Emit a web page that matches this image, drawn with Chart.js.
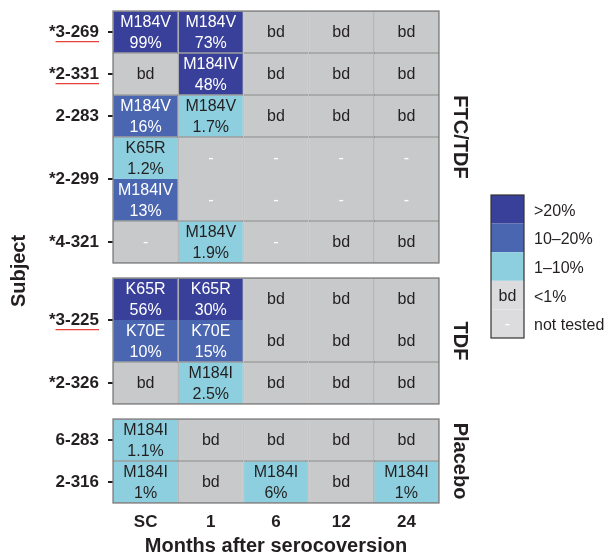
<!DOCTYPE html>
<html>
<head>
<meta charset="utf-8">
<script src="https://cdn.jsdelivr.net/npm/chart.js@4.4.1/dist/chart.umd.min.js"></script>
<style>
    html, body { margin: 0; padding: 0; background: #fff; }
    #wrap { width: 606px; height: 556px; }
</style>
</head>
<body>
<div id="wrap"><canvas id="chart" width="606" height="556"></canvas></div>
<script>
// ========== DATA ==========
const months = ['SC', '1', '6', '12', '24'];
const groups = ['FTC/TDF', 'TDF', 'Placebo'];
const subjects = ['*3-269', '*2-331', '2-283', '*2-299', '*4-321', '*3-225', '*2-326', '6-283', '2-316'];
const subjectGroup = [0, 0, 0, 0, 0, 1, 1, 2, 2];
const underlined = ['*3-269', '*2-331', '*3-225'];

// per subject, per month: 'bd', '-' (not tested) or [mutation, percent].
// A pair of entries splits the cell into two halves.
const results = [
    [['M184V', 99], ['M184V', 73], 'bd', 'bd', 'bd'],
    ['bd', ['M184IV', 48], 'bd', 'bd', 'bd'],
    [['M184V', 16], ['M184V', 1.7], 'bd', 'bd', 'bd'],
    [[['K65R', 1.2], ['M184IV', 13]], ['-', '-'], ['-', '-'], ['-', '-'], ['-', '-']],
    ['-', ['M184V', 1.9], '-', 'bd', 'bd'],
    [[['K65R', 56], ['K70E', 10]], [['K65R', 30], ['K70E', 15]], ['bd', 'bd'], ['bd', 'bd'], ['bd', 'bd']],
    ['bd', ['M184I', 2.5], 'bd', 'bd', 'bd'],
    [['M184I', 1.1], 'bd', 'bd', 'bd', 'bd'],
    [['M184I', 1], 'bd', ['M184I', 6], 'bd', ['M184I', 1]],
];

const legendLabels = ['>20%', '10–20%', '1–10%', '<1%', 'not tested'];
const legendKeys = ['high', 'mid', 'low', 'bd', 'nt'];

// ========== STYLE ==========
const FONT = "'Liberation Sans', Arial, Helvetica, sans-serif";
const TEXT = '#231f20';
const COLORS = { high: '#39409a', mid: '#4a66b0', low: '#8dcfde', bd: '#c8c9cb', nt: '#c8c9cb' };
const LEGEND_COLORS = { high: '#39409a', mid: '#4a66b0', low: '#8dcfde', bd: '#dcdcde', nt: '#dcdcde' };
const TEXT_COLORS = { high: '#ffffff', mid: '#ffffff', low: TEXT, bd: TEXT, nt: '#ffffff' };
const GRID_LINE = '#808080';
const GROUP_GAP = 0.357;

Chart.defaults.font.family = FONT;

// ========== LAYOUT OF ROWS ==========
const isSplit = cell => Array.isArray(cell) && typeof cell[1] !== 'number';
const rowSpan = results.map(r => r.some(isSplit) ? 2 : 1);
const rowStart = [];
const groupRange = groups.map(() => [Infinity, -Infinity]);
let cursor = 0;
subjects.forEach((s, i) => {
    if (i > 0 && subjectGroup[i] !== subjectGroup[i - 1]) cursor += GROUP_GAP;
    rowStart.push(cursor);
    const g = groupRange[subjectGroup[i]];
    g[0] = Math.min(g[0], cursor);
    cursor += rowSpan[i];
    g[1] = Math.max(g[1], cursor);
});
const totalRows = cursor;
const rowCenters = subjects.map((s, i) => rowStart[i] + rowSpan[i] / 2);

function category(entry) {
    if (entry === 'bd') return 'bd';
    if (entry === '-') return 'nt';
    const pct = entry[1];
    return pct > 20 ? 'high' : pct >= 10 ? 'mid' : 'low';
}

function entryLines(entry) {
    if (entry === 'bd' || entry === '-') return [entry];
    return [entry[0], entry[1] + '%'];
}

// one floating bar per cell (or half cell)
const bars = [];
const barInfo = [];
results.forEach((row, s) => {
    row.forEach((cell, m) => {
        const parts = isSplit(cell) ? cell : [cell];
        const h = rowSpan[s] / parts.length;
        parts.forEach((entry, k) => {
            const top = rowStart[s] + k * h;
            bars.push({ x: months[m], y: [top, top + h] });
            barInfo.push({
                cat: category(entry),
                lines: entryLines(entry),
                half: parts.length > 1 ? k + 1 : 0,
            });
        });
    });
});

// ========== PLUGIN: cell text, frames, side labels, legend ==========
const decorations = {
    id: 'decorations',
    afterDatasetsDraw(chart) {
        const ctx = chart.ctx;
        const area = chart.chartArea;
        const yScale = chart.scales.y;
        const meta = chart.getDatasetMeta(0);

        ctx.save();
        ctx.textAlign = 'center';
        ctx.textBaseline = 'middle';
        ctx.font = `16px ${FONT}`;
        meta.data.forEach((el, i) => {
            const info = barInfo[i];
            const { x, y, base } = el.getProps(['x', 'y', 'base'], true);
            const cy = (y + base) / 2 + 1;
            ctx.fillStyle = TEXT_COLORS[info.cat];
            info.lines.forEach((t, k) => {
                ctx.fillText(t, x, cy + (k - (info.lines.length - 1) / 2) * 21);
            });
        });

        // panel frames
        ctx.strokeStyle = GRID_LINE;
        ctx.lineWidth = 1.3;
        groupRange.forEach(([a, b]) => {
            const top = yScale.getPixelForValue(a);
            const bottom = yScale.getPixelForValue(b);
            ctx.strokeRect(area.left, top, area.right - area.left, bottom - top);
        });

        // group labels on the right
        ctx.fillStyle = TEXT;
        ctx.font = `bold 20px ${FONT}`;
        groupRange.forEach(([a, b], gi) => {
            const cy = (yScale.getPixelForValue(a) + yScale.getPixelForValue(b)) / 2;
            ctx.save();
            ctx.translate(area.right + 21, cy);
            ctx.rotate(Math.PI / 2);
            ctx.fillText(groups[gi], 0, 0);
            ctx.restore();
        });

        // y title
        ctx.save();
        ctx.translate(19, (area.top + area.bottom) / 2 + 14);
        ctx.rotate(-Math.PI / 2);
        ctx.fillText('Subject', 0, 0);
        ctx.restore();

        // red underline under flagged subject ids
        const labelRight = yScale.right - yScale.options.grid.tickLength - yScale.options.ticks.padding;
        ctx.font = `bold 17px ${FONT}`;
        ctx.strokeStyle = '#e8413c';
        ctx.lineWidth = 1.3;
        subjects.forEach((s, i) => {
            if (!underlined.includes(s)) return;
            const w = ctx.measureText(s.replace('*', '')).width;
            const yy = yScale.getPixelForValue(rowCenters[i]) + 9.7;
            ctx.beginPath();
            ctx.moveTo(labelRight - w, yy);
            ctx.lineTo(labelRight, yy);
            ctx.stroke();
        });

        // legend
        const lx = 491, ly = 195, lw = 33, lh = 28.6;
        legendKeys.forEach((key, k) => {
            ctx.fillStyle = LEGEND_COLORS[key];
            ctx.fillRect(lx, ly + k * lh, lw, lh);
        });
        ctx.strokeStyle = '#333333';
        ctx.lineWidth = 1.2;
        ctx.strokeRect(lx, ly, lw, lh * legendKeys.length);
        ctx.font = `16px ${FONT}`;
        ctx.textAlign = 'center';
        ctx.fillStyle = TEXT;
        ctx.fillText('bd', lx + lw / 2, ly + 3.5 * lh + 1);
        ctx.fillStyle = '#ffffff';
        ctx.fillText('-', lx + lw / 2, ly + 4.5 * lh + 1);
        ctx.textAlign = 'left';
        ctx.fillStyle = TEXT;
        legendLabels.forEach((t, k) => {
            ctx.fillText(t, lx + 43, ly + (k + 0.5) * lh + 2);
        });
        ctx.restore();
    },
};

new Chart(document.getElementById('chart'), {
    type: 'bar',
    data: {
        labels: months,
        datasets: [{
            data: bars,
            backgroundColor: c => COLORS[barInfo[c.dataIndex].cat],
            borderColor: GRID_LINE,
            borderWidth: c => {
                const half = barInfo[c.dataIndex].half;
                const bw = 0.7;
                return { top: half === 2 ? 0 : bw, bottom: half === 1 ? 0 : bw, left: bw, right: bw };
            },
            borderSkipped: false,
            inflateAmount: 0,
            barPercentage: 1,
            categoryPercentage: 1,
        }],
    },
    options: {
        responsive: false,
        animation: false,
        events: [],
        layout: { padding: { top: 11, right: 167, left: 0, bottom: 0 } },
        plugins: { legend: { display: false }, tooltip: { enabled: false } },
        scales: {
            x: {
                type: 'category',
                offset: true,
                grid: { display: false, drawTicks: false },
                border: { display: false },
                ticks: { color: TEXT, font: { size: 17, weight: 'bold' }, padding: 9 },
                title: {
                    display: true,
                    text: 'Months after serocoversion',
                    color: TEXT,
                    font: { size: 20, weight: 'bold', lineHeight: 1 },
                    padding: 0,
                },
                afterFit: s => { s.height = 53; s.paddingLeft = 0; s.paddingRight = 0; },
            },
            y: {
                type: 'linear',
                reverse: true,
                min: 0,
                max: totalRows,
                afterBuildTicks: s => { s.ticks = rowCenters.map(v => ({ value: v })); },
                afterFit: s => { s.width = 113; s.paddingTop = 0; s.paddingBottom = 0; },
                ticks: {
                    autoSkip: false,
                    color: TEXT,
                    font: { size: 17, weight: 'bold' },
                    padding: 9,
                    callback: (v, i) => subjects[i],
                },
                grid: { drawOnChartArea: false, drawTicks: true, tickLength: 5, color: TEXT, lineWidth: 2 },
                border: { display: false },
            },
        },
    },
    plugins: [decorations],
});
</script>
</body>
</html>
